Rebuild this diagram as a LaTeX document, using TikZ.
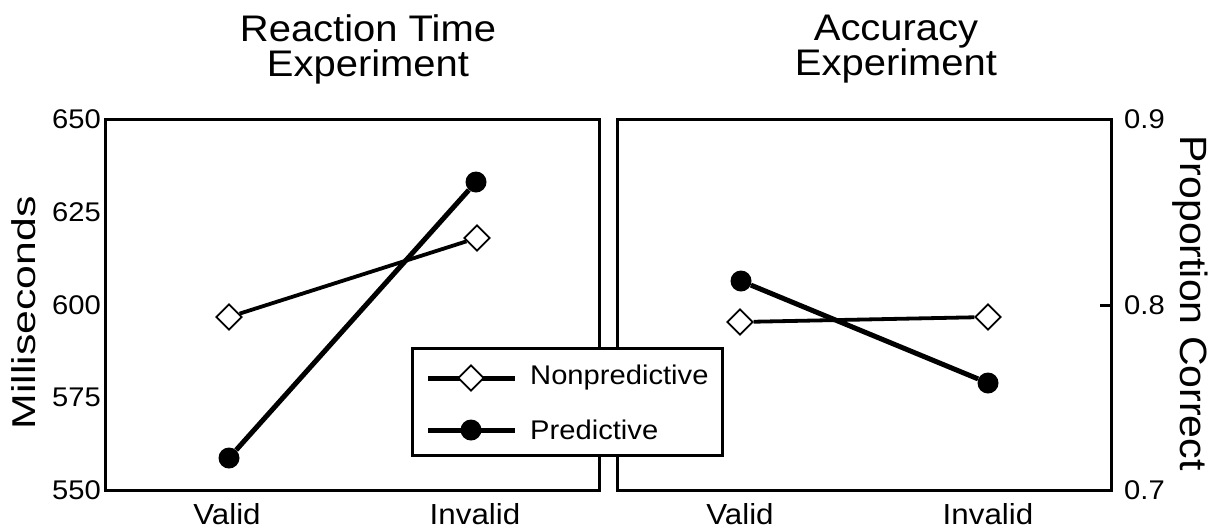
\documentclass[tikz,border=0pt]{standalone}
\usepackage{fontspec}
\setmainfont[FakeStretch=1.08]{Liberation Sans}
\usetikzlibrary{shapes.geometric}
\begin{document}
\begin{tikzpicture}[x=1pt,y=-1pt,
  frame/.style={line width=3pt},
  dia/.style={diamond,draw,fill=white,line width=1.8pt,inner sep=0pt,minimum width=26pt,minimum height=26pt},
  dot/.style={circle,fill=black,inner sep=0pt,minimum size=21pt},
  npline/.style={line width=3.8pt},
  pline/.style={line width=5pt},
  ttl/.style={font=\fontsize{37}{35}\selectfont,align=center,inner sep=0pt},
  tick/.style={font=\fontsize{27}{28}\selectfont,inner sep=0pt},
  xlab/.style={font=\fontsize{29}{30}\selectfont,inner sep=0pt},
  axl/.style={font=\fontsize{33}{34}\selectfont,inner sep=0pt},
  axr/.style={font=\fontsize{38}{38}\selectfont,inner sep=0pt},
  leg/.style={font=\fontsize{27}{28}\selectfont,inner sep=0pt,anchor=west}]
\useasboundingbox (0,0) rectangle (1217,531);
\fill[white] (0,0) rectangle (1217,531);
% titles
\node[ttl] (t1) at (368,49) {Reaction Time\\Experiment};
\node[ttl] (t2) at (896,49) {Accuracy\\Experiment};
% frames
\draw[frame] (105,119) rectangle (599,490);
\draw[frame] (617,119) rectangle (1111,490);
\draw[frame] (1100,305) -- (1111,305);
% left ticks
\node[tick,anchor=east] (l650) at (101,119) {650};
\node[tick,anchor=east] (l625) at (101,212) {625};
\node[tick,anchor=east] (l600) at (101,305) {600};
\node[tick,anchor=east] (l575) at (101,397) {575};
\node[tick,anchor=east] (l550) at (101,490) {550};
% right ticks
\node[tick,anchor=west] (r9) at (1124,119) {0.9};
\node[tick,anchor=west] (r8) at (1124,305) {0.8};
\node[tick,anchor=west] (r7) at (1124,490) {0.7};
% axis labels
\node[axl,rotate=90] (yl) at (24,313) {\scalebox{1.2}[1]{Milliseconds}};
\node[axr,rotate=-90] (yr) at (1190,303) {Proportion Correct};
% x labels
\node[xlab] (xv1) at (227,514) {Valid};
\node[xlab] (xi1) at (475,514) {Invalid};
\node[xlab] (xv2) at (740,514) {Valid};
\node[xlab] (xi2) at (988,514) {Invalid};
% data left
\node[dia] (ln1) at (229,317) {};
\node[dia] (ln2) at (477,238) {};
\node[dot] (lp1) at (229,458) {};
\node[dot] (lp2) at (476,182) {};
\draw[npline] (ln1) -- (ln2);
\draw[pline] (lp1) -- (lp2);
% data right
\node[dia] (rn1) at (740,322) {};
\node[dia] (rn2) at (988,317) {};
\node[dot] (rp1) at (741,281) {};
\node[dot] (rp2) at (988,383) {};
\draw[npline] (rn1) -- (rn2);
\draw[pline] (rp1) -- (rp2);
% legend
\draw[frame,fill=white] (412,348) rectangle (722,455);
\coordinate (la1) at (428,378);
\coordinate (lb1) at (515,378);
\coordinate (la2) at (428,430);
\coordinate (lb2) at (515,430);
\draw[pline] (la1) -- (lb1);
\draw[pline] (la2) -- (lb2);
\node[dia] (lm1) at (471,378) {};
\node[dot] (lm2) at (471,430) {};
\node[leg] (lt1) at (530,378) {Nonpredictive};
\node[leg] (lt2) at (530,430) {Predictive};
\end{tikzpicture}
\end{document}
